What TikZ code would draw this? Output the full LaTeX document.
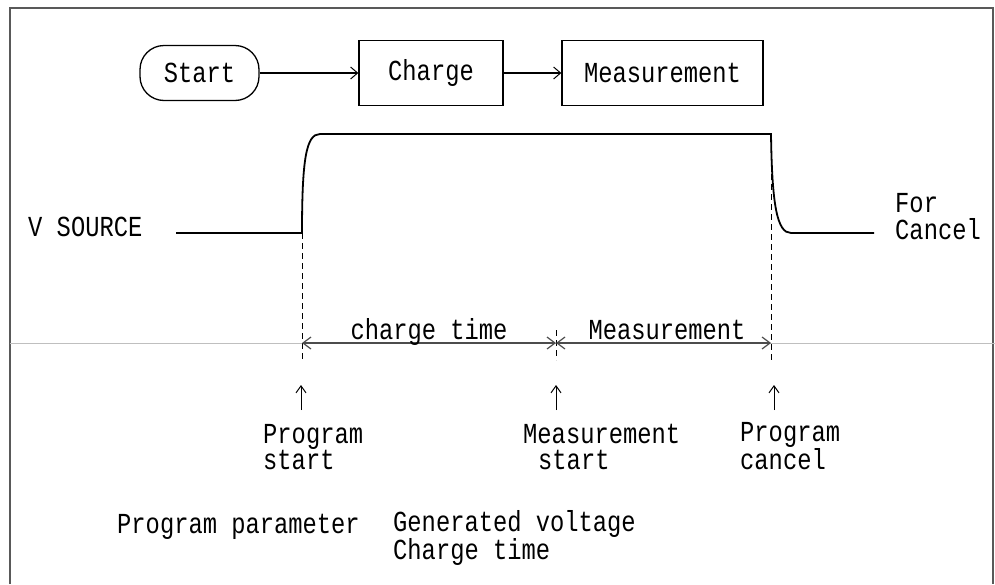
\documentclass[tikz,border=0pt]{standalone}
\usepackage{fontspec}
\newfontfamily\dm[FakeStretch=0.82]{Liberation Mono}
\usetikzlibrary{arrows.meta}
\begin{document}
\begin{tikzpicture}[x=1pt,y=-1pt,
  lbl/.style={font=\dm\fontsize{29}{26.5}\selectfont, inner sep=0pt, anchor=base west, align=left},
  ctr/.style={font=\dm\fontsize{29}{30}\selectfont, inner sep=0pt, anchor=base},
  blk/.style={draw, line width=1.3pt, font=\dm\fontsize{29}{30}\selectfont, inner sep=0pt},
  flow/.style={line width=1.3pt, -{Straight Barb[length=7pt,width=12pt,line width=1pt]}},
  sig/.style={line width=1.8pt},
  vdash/.style={dash pattern=on 6pt off 4pt, line width=0.8pt},
  dim/.style={line width=1.2pt, gray!60!black, {Straight Barb[length=8pt,width=12pt]}-{Straight Barb[length=8pt,width=12pt]}},
  up/.style={line width=1pt, -{Straight Barb[length=7pt,width=10pt]}},
  frame/.style={gray!70!black, line width=1.2pt}
]
\useasboundingbox (0,0) rectangle (995,584);
\draw[frame] (10,584) -- (10,8) -- (993,8) -- (993,584);
\draw[gray!50, line width=1pt] (10,343) -- (995,343);

% flow
\node[blk, rounded corners=24pt, minimum width=119pt, minimum height=55pt] (start) at (199.5,73) {Start};
\node[blk, minimum width=144pt, minimum height=65pt] (charge) at (431,73) {Charge};
\node[blk, minimum width=201pt, minimum height=65pt] (meas) at (662.5,73) {Measurement};
\draw[flow] (start) -- (charge);
\draw[flow] (charge) -- (meas);

% signal
\coordinate (l0) at (176,233);
\coordinate (r0) at (302,233);
\coordinate (r1) at (320,134);
\coordinate (f0) at (771,134);
\coordinate (f1) at (791,233);
\coordinate (l1) at (874,233);
\draw[sig] (l0) -- (r0) .. controls (302,160) and (306,134) .. (r1) -- (f0) .. controls (772,205) and (777,233) .. (f1) -- (l1);

% dashed markers
\coordinate (ps) at (302,362);
\coordinate (pc) at (771,362);
\coordinate (mt) at (556,330);
\coordinate (mb) at (556,360);
\draw[vdash] (r0) -- (ps);
\draw[vdash] (f0) -- (pc);
\draw[vdash] (mt) -- (mb);

% dimension line
\coordinate (d0) at (302,343);
\coordinate (d1) at (556,343);
\coordinate (d2) at (771,343);
\draw[dim] (d0) -- (d1);
\draw[dim] (d1) -- (d2);
\node[ctr] (ct) at (429,339) {charge time};
\node[ctr] (mm) at (667,339) {Measurement};

% up arrows
\coordinate (a0) at (301,410); \coordinate (a0t) at (301,385);
\coordinate (a1) at (556,410); \coordinate (a1t) at (556,385);
\coordinate (a2) at (774,410); \coordinate (a2t) at (774,385);
\draw[up] (a0) -- (a0t);
\draw[up] (a1) -- (a1t);
\draw[up] (a2) -- (a2t);

% labels (multi-line nodes: base = baseline of last line)
\node[lbl] (vs) at (28,236) {V SOURCE};
\node[lbl] (fc) at (895,239) {For\\Cancel};
\node[lbl] (ps1) at (263,469.5) {Program\\start};
\node[lbl] (ms1) at (523,469.5) {Measurement\\\hspace*{15pt}start};
\node[lbl] (pc1) at (740,469.5) {Program\\cancel};
\node[lbl] (pp) at (117,533) {Program parameter};
\node[lbl] (gv) at (393,559.5) {Generated voltage\\Charge time};
\end{tikzpicture}
\end{document}
